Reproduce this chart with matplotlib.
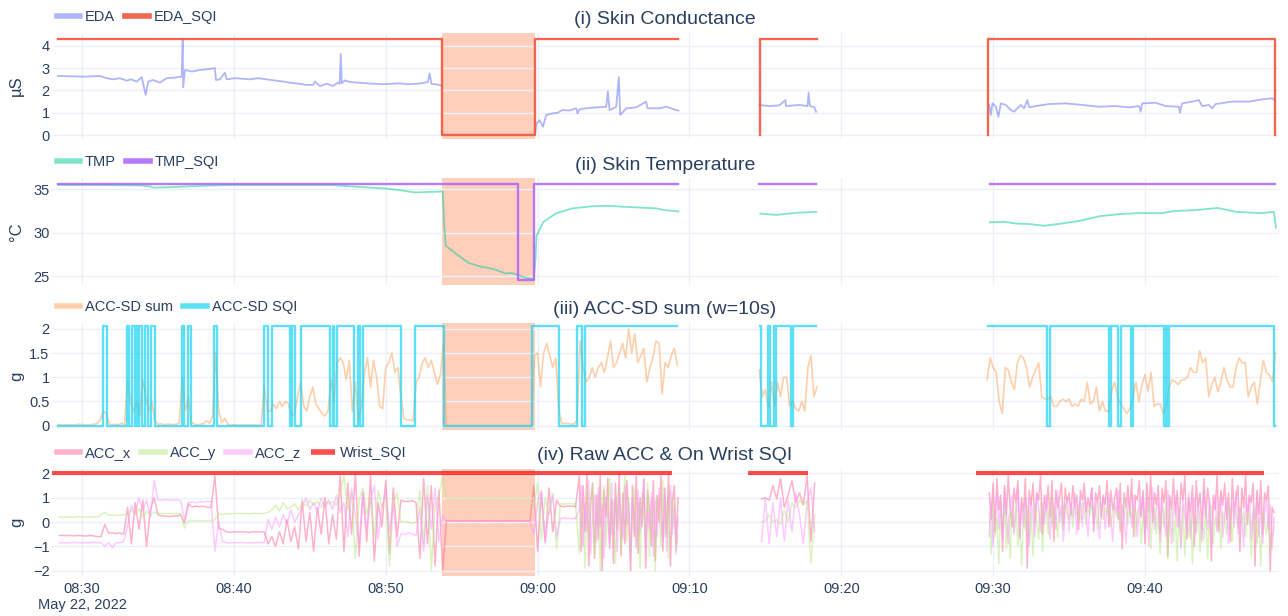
import numpy as np
import matplotlib
matplotlib.use("Agg")
import matplotlib.pyplot as plt

plt.rcParams["font.family"] = ["Liberation Sans", "DejaVu Sans"]

NAVY = "#2a3f5f"
GRID = "#ebf0f8"

# all times are minutes after 08:00, May 22, 2022
x_ticks = [30, 40, 50, 60, 70, 80, 90, 100]
shade_start, shade_end = 53.73, 59.80

# ---------------- (i) skin conductance ----------------
eda_t = [28.42, 30.07, 31.18, 31.63, 32.04, 32.50, 32.94, 33.22, 33.60, 33.93, 34.19, 34.36,
         34.69, 35.13, 35.57, 36.12, 36.56, 36.63, 36.66, 36.78, 37.24, 37.76, 38.22, 38.75,
         38.82, 39.08, 39.41, 39.52, 40.07, 41.05, 41.58, 42.15, 42.70, 43.24, 43.68, 44.34,
         44.74, 45.22, 45.33, 45.66, 46.12, 46.53, 46.84, 46.97, 47.04, 47.11, 47.30, 47.63,
         48.16, 48.73, 49.28, 49.82, 50.39, 50.92, 51.45, 52.02, 52.43, 52.78, 52.89, 53.01,
         53.36, 53.66,
         56.0,
         59.84, 59.93, 60.13, 60.35, 60.57, 60.99, 61.32, 61.64, 62.11, 62.55, 62.63, 62.76,
         63.20, 63.86, 64.52, 64.63, 64.74, 65.18, 65.35, 65.44, 65.84, 66.49, 67.15, 67.24,
         68.03, 68.47, 69.13, 69.28,
         72.0,
         74.61, 75.26, 75.92, 76.32, 76.36, 77.24, 77.78, 77.85, 77.94, 78.22, 78.34,
         84.0,
         89.74, 89.85, 89.95, 90.18, 90.35, 90.51, 90.84, 91.16, 91.38, 91.60, 91.82, 92.04,
         92.26, 92.37, 92.81, 93.68, 94.78, 95.88, 96.97, 98.07, 98.95, 99.61, 99.72, 99.82,
         100.70, 101.36, 102.24, 102.30, 102.45, 103.11, 103.55, 103.77, 104.21, 104.43,
         104.65, 105.74, 106.84, 107.72, 108.38, 108.55]
eda_v = [2.65, 2.62, 2.65, 2.55, 2.5, 2.55, 2.44, 2.5, 2.4, 2.6, 1.8, 2.4,
         2.47, 2.35, 2.55, 2.58, 2.62, 4.3, 2.14, 2.92, 2.85, 2.92, 2.95, 3.0,
         2.47, 2.5, 2.8, 2.5, 2.55, 2.5, 2.55, 2.5, 2.45, 2.4, 2.35, 2.3,
         2.25, 2.25, 2.4, 2.2, 2.3, 2.2, 2.35, 2.3, 3.64, 2.32, 2.45, 2.38,
         2.35, 2.32, 2.3, 2.28, 2.3, 2.32, 2.28, 2.3, 2.33, 2.38, 2.77, 2.3,
         2.27, 2.22,
         np.nan,
         0.1, 0.5, 0.67, 0.37, 0.9, 0.97, 1.0, 1.12, 1.1, 1.2, 0.97, 1.15,
         1.2, 1.24, 1.27, 1.95, 1.12, 1.27, 2.6, 0.9, 1.2, 1.24, 1.5, 1.2,
         1.2, 1.27, 1.12, 1.1,
         np.nan,
         1.35, 1.3, 1.33, 1.57, 1.3, 1.35, 1.3, 1.9, 1.3, 1.25, 1.05,
         np.nan,
         1.35, 0.9, 1.42, 1.27, 0.82, 1.42, 1.35, 1.12, 1.05, 1.2, 1.35, 1.2,
         1.57, 1.24, 1.3, 1.39, 1.42, 1.35, 1.27, 1.3, 1.24, 1.3, 1.05, 1.42,
         1.45, 1.3, 1.27, 1.0, 1.42, 1.5, 1.57, 1.3, 1.35, 1.2,
         1.39, 1.5, 1.5, 1.6, 1.65, 1.55]
eda_sqi_t = [[28.42, 53.73, 59.86, 69.28], [74.67, 74.67, 78.42], [89.67, 89.67, 108.50, 108.55]]
eda_sqi_v = [[4.3, 0, 4.3, 4.3], [0, 4.3, 4.3], [0, 4.3, 4.3, 0]]

# ---------------- (ii) skin temperature ----------------
tmp_t = [28.42, 31.18, 33.82, 34.47, 34.70, 35.79, 37.76, 39.74, 44.34, 46.45, 47.63, 48.95,
         50.00, 50.92, 51.91, 52.89, 53.75, 53.85, 53.95, 54.61, 55.46, 56.25, 57.11, 57.50,
         57.89, 58.29, 58.75, 59.14, 59.54, 59.74, 59.87, 59.93, 60.36, 61.18, 62.28, 63.62,
         64.74, 65.53, 66.71, 67.80, 68.36, 69.28,
         72.0,
         74.67, 75.72, 77.11, 78.36,
         84.0,
         89.78, 90.72, 91.55, 92.37, 93.33, 94.28, 95.66, 97.01, 98.36, 99.47, 101.12, 101.91,
         103.29, 104.80, 106.02, 107.63, 108.49, 108.62]
tmp_v = [35.5, 35.5, 35.45, 35.35, 35.2, 35.25, 35.4, 35.5, 35.5, 35.5, 35.35, 35.2,
         35.1, 34.9, 34.65, 34.7, 34.75, 31.0, 28.5, 27.6, 26.5, 26.1, 25.8, 25.55,
         25.3, 25.35, 25.1, 24.85, 24.7, 24.6, 27.0, 29.6, 31.2, 32.2, 32.8, 33.05,
         33.1, 33.0, 32.9, 32.8, 32.6, 32.45,
         np.nan,
         32.2, 32.05, 32.3, 32.4,
         np.nan,
         31.2, 31.25, 31.05, 31.0, 30.8, 31.0, 31.35, 31.9, 32.15, 32.25, 32.25, 32.5,
         32.6, 32.85, 32.4, 32.25, 32.4, 30.6]
tmp_sqi_t = [[28.42, 58.74, 59.74, 69.25], [74.61, 78.34], [89.78, 108.55]]
tmp_sqi_v = [[35.57, 24.55, 35.57, 35.57], [35.57, 35.57], [35.57, 35.57]]

# ---------------- (iii) ACC-SD sum, 0.2 min samples ----------------
sd_start = [28.4, 74.6, 89.6]
sd_step = 0.2
sd_a = [0.02, 0.02, 0.01, 0.02, 0.02, 0.01, 0.02, 0.03, 0.02, 0.02, 0.01, 0.02, 0.03,
        0.05, 0.12, 0.3, 0.25, 0.03, 0.02, 0.03, 0.02, 0.05, 0.02,
        0.94, 0.5, 0.3, 0.5, 0.2, 0.95, 0.6, 0.3, 0.5, 0.1,
        0.03, 0.04, 0.02, 0.03, 0.03, 0.02, 0.03, 0.05,
        0.99, 0.3, 0.6, 0.08, 0.03, 0.02, 0.03, 0.04, 0.1, 0.05,
        0.2, 1.52, 0.3, 0.06, 0.15, 0.03,
        0.01, 0.02, 0.01, 0.01, 0.02, 0.01, 0.01, 0.02, 0.01, 0.01, 0.02,
        0.85, 0.3, 0.3, 0.45, 0.35, 0.5, 0.4, 0.5, 0.45, 0.2, 0.25, 0.6,
        0.9, 0.4, 0.3, 0.6, 0.8, 0.45, 0.35, 0.25, 0.2, 0.3,
        0.95, 0.5, 1.3, 1.4, 1.3, 0.95, 1.35, 0.3, 0.9, 0.1,
        0.4, 1.1, 1.4, 0.8, 1.35, 1.0, 0.4, 0.35, 1.2, 1.3,
        1.5, 1.1, 1.2, 0.6, 0.15, 0.12, 0.12, 0.1, 0.9, 1.0,
        1.3, 1.4, 1.2, 1.35, 1.1, 0.85, 1.05, 1.7,
        0.0, 0.0, 0.0, 0.0, 0.0, 0.0, 0.0, 0.0, 0.0, 0.0, 0.0, 0.0, 0.0, 0.0, 0.0,
        0.0, 0.0, 0.0, 0.0, 0.0, 0.0, 0.0, 0.0, 0.0, 0.0, 0.0, 0.0, 0.0, 0.0,
        1.45, 1.5, 0.8, 1.5, 1.7, 1.45, 1.2, 1.4, 0.3, 0.05,
        0.04, 0.05, 0.03, 0.04, 0.1,
        1.75, 1.2, 0.9, 1.0, 1.2, 1.0, 1.2, 1.3, 1.1, 1.4,
        1.75, 1.2, 1.3, 1.5, 1.7, 1.4, 2.0, 1.5, 1.9, 1.3,
        1.45, 1.6, 0.9, 1.2, 1.4, 1.75, 1.7, 0.65, 1.3, 1.2, 1.45, 1.6, 1.25]
sd_b = [1.15, 0.6, 0.75, 0.35, 0.9, 0.4, 0.9, 0.6, 1.0, 1.0,
        0.4, 0.5, 0.35, 0.3, 0.5, 0.3, 1.2, 1.45, 0.6, 0.8]
sd_c = [0.95, 1.4, 1.2, 1.1, 0.5, 0.25, 1.2, 1.15, 0.9, 0.75,
        1.3, 1.45, 1.4, 1.2, 0.8, 1.0, 1.15, 1.3, 0.6, 0.55,
        0.55, 0.6, 0.4, 0.4, 0.5, 0.55, 0.5, 0.55, 0.4, 0.45,
        0.4, 0.55, 0.5, 0.9, 0.45, 0.5, 0.8, 0.3, 0.5, 0.3,
        0.3, 0.7, 0.9, 0.6, 0.45, 0.35, 0.25, 0.35, 0.55, 0.9,
        0.5, 0.85, 1.05, 0.7, 1.1, 0.4, 0.45, 0.45, 0.25, 0.4,
        0.8, 0.95, 0.9, 0.85, 0.95, 0.95, 1.0, 1.2, 1.1, 1.1,
        1.55, 1.3, 1.4, 0.6, 0.85, 1.0, 0.7, 0.9, 1.2, 0.95,
        0.8, 0.8, 1.2, 1.4, 1.3, 1.3, 0.6, 0.8, 0.9, 0.45,
        0.95, 1.35, 1.1, 1.05, 0.9, 1.5]
H = 2.05
sd_sqi_t = [[28.42, 31.40, 31.66, 32.94, 33.09, 33.31, 33.49, 33.60, 33.70, 33.75, 33.97,
             34.14, 34.32, 34.52, 34.80, 36.56, 36.73, 36.95, 37.15, 38.68, 38.88, 41.97,
             42.22, 42.52, 43.68, 43.84, 44.01, 44.45, 46.36, 46.51, 46.61, 46.76, 47.91,
             48.16, 48.29, 48.49, 51.03, 51.91, 53.82, 59.61, 61.38, 62.57, 62.93, 63.12, 69.21],
            [74.62, 74.70, 75.20, 75.30, 75.55, 75.62, 75.68, 76.69, 76.80, 78.32],
            [89.69, 93.57, 93.73, 97.63, 97.74, 98.24, 98.40, 99.08, 99.23, 101.27, 101.38,
             101.45, 101.58, 108.49, 108.55]]
sd_sqi_v = [[0, H, 0, H, 0, H, 0, H, 0, H, 0, H, 0, H, 0, H, 0, H, 0, H, 0, H, 0, H, 0,
             H, 0, H, 0, H, 0, H, 0, H, 0, H, 0, H, 0, H, 0, H, 0, H, H],
            [H, 0, H, 0, H, 0, H, 0, H, H],
            [H, 0, H, 0, H, 0, H, 0, H, 0, H, 0, H, 0, 0]]

# ---------------- (iv) raw ACC ----------------
# pieces: 08:28.5 (0.25 min), 09:02.75 (0.125 min), 09:14.75 (0.25 min), 09:29.75 (0.125 min)
acc_start = [28.5, 62.75, 74.75, 89.75]
acc_step = [0.25, 0.125, 0.25, 0.125]
acc_x_a = [-0.55, -0.55, -0.56, -0.55, -0.57, -0.55, -0.56, -0.58, -0.55, -0.57, -0.6,
           -0.6, -0.1, -0.45, -0.45, -0.47, -0.45, -0.5,
           0.6, -0.9, 0.8, -0.3, 0.9, -1.0, 0.5, 1.0,
           0.3, 0.25, 0.25, 0.22, 0.25, 0.25, 0.3,
           -0.05,
           0.75, 0.62, 0.65, 0.63, 0.65, 0.6, 0.6,
           1.9, -0.25, -0.3,
           -0.4, -0.42, -0.4, -0.41, -0.4, -0.4, -0.43, -0.4, -0.41, -0.4, -0.4,
           -0.9, -0.6, -1.0, -0.4, -0.9, 0.1, -0.8, -0.2, -1.1,
           0.9, -0.8, 0.4, -1.2, 0.6, -0.5, 1.0, -0.9, 0.3, -0.7,
           1.9, -1.2, 1.6, -0.5, 2.0, -1.4, 1.2, -0.8, 1.9, -1.6, 0.8, -0.2, 1.7, -1.3, 1.4, -0.6,
           0.9, 0.85, 0.85, 0.88, 0.8,
           -1.5, 1.8, -0.9, 1.5, -1.8, 1.3, -2.0,
           0.06, 0.05, 0.05, 0.04, 0.05, 0.06, 0.05, 0.05, 0.04, 0.05, 0.05, 0.06,
           0.05, 0.05, 0.04, 0.05, 0.05, 0.06, 0.05, 0.05, 0.04, 0.05, 0.05,
           1.5, -1.2, 1.2, -0.8, 1.4, -0.4, 0.9,
           0.65, 0.63, 0.66, 0.65, 0.64]
acc_y_a = [0.2, 0.2, 0.21, 0.2, 0.2, 0.22, 0.2, 0.21, 0.2, 0.22, 0.2,
           0.3, 0.4, 0.28, 0.28, 0.27, 0.28, 0.3,
           0.35, 0.5, 0.3, 0.55, 0.2, 0.45, 0.3, 0.4,
           0.35, 0.35, 0.36, 0.35, 0.34, 0.35, 0.35,
           -0.25,
           0.05, 0.05, 0.04, 0.05, 0.05, 0.04, 0.05,
           0.1, 0.35, 0.3,
           0.35, 0.34, 0.35, 0.36, 0.35, 0.35, 0.34, 0.35, 0.36, 0.35, 0.35,
           0.4, 0.5, 0.7, 0.45, 0.8, 0.55, 0.6, 0.75, 0.5,
           0.8, 0.65, 0.9, 0.7, 0.85, 0.6, 0.9, 0.75, 0.85, 0.7,
           1.2, 1.9, 0.5, 1.2, -1.5, 0.9, 1.4, 0.3, 1.0, -0.6, 1.3, 0.6, 1.1, -1.8, 0.8, 1.2,
           0.0, 0.02, 0.0, -0.05, 0.0,
           1.3, -0.9, 1.5, -2.0, 0.7, 1.1, 1.9,
           0.95, 0.96, 0.95, 0.95, 0.94, 0.95, 0.96, 0.95, 0.95, 0.94, 0.95, 0.95,
           0.96, 0.95, 0.95, 0.94, 0.95, 0.95, 0.96, 0.95, 0.95, 0.94, 0.95,
           0.6, 1.6, -0.7, 1.0, 0.3, 1.2, -1.1,
           0.75, 0.74, 0.76, 0.75, 0.75]
acc_z_a = [-0.85, -0.85, -0.86, -0.85, -0.84, -0.85, -0.86, -0.85, -0.85, -0.84, -0.85,
           -0.85, -1.0, -0.85, -1.05, -0.85, -0.85, -0.8,
           -0.2, 0.7, 0.3, 1.0, 0.5, 0.9, 0.2, 1.7,
           0.9, 0.9, 0.92, 0.9, 0.9, 0.92, 0.88,
           0.1,
           0.8, 0.82, 0.8, 0.83, 0.82, 0.85, 0.85,
           -1.2, 0.0, -0.8,
           -0.85, -0.86, -0.85, -0.85, -0.84, -0.85, -0.86, -0.85, -0.85, -0.84, -0.85,
           0.1, -0.3, 0.2, -0.2, 0.3, -0.1, 0.5, 0.0, 0.3,
           0.6, 1.0, 0.5, 0.8, 0.4, 1.0, 0.6, 0.9, 0.5, 1.1,
           0.4, 0.8, -0.6, 1.4, 0.2, -0.9, 1.2, -0.3, 0.9, 1.5, -0.7, 0.6, 1.3, -0.4, 0.7, -1.0,
           -0.5, -0.5, -0.45, -0.5, -0.55,
           0.6, -1.2, 1.1, -0.3, 1.4, -0.8, 0.3,
           0.05, 0.06, 0.05, 0.05, 0.04, 0.05, 0.05, 0.06, 0.05, 0.05, 0.04, 0.05,
           0.05, 0.06, 0.05, 0.05, 0.04, 0.05, 0.05, 0.06, 0.05, 0.05, 0.04,
           -0.5, 0.8, 1.3, -0.9, 0.4, 1.1, -0.6,
           0.15, 0.16, 0.15, 0.14, 0.15]
acc_x_a2 = [1.9, -1.2, 1.5, -0.4, 2.0, -1.8, 0.8, 1.6, -1.5, 1.1,
            -0.7, 1.9, -2.0, 1.3, 0.2, 1.8, -1.1, 0.9, -1.7, 1.6,
            -0.3, 2.0, -1.4, 1.2, -0.9, 1.7, 0.4, -2.0, 1.5, -0.6,
            1.9, -1.3, 1.0, -0.2, 1.8, -1.9, 1.3, 0.5, -1.0, 1.7,
            -1.6, 1.1, 0.0, 1.9, -1.2, 1.4, -0.5, 2.0, -1.8, 0.8,
            1.5, -0.9, 1.0]
acc_y_a2 = [-1.3, 0.9, 0.3, -1.9, 1.4, -0.6, 0.8, 1.6, -1.4, 0.5,
            1.2, -2.0, 0.4, 1.5, -1.0, 0.7, 1.8, -0.5, 0.9, -1.7,
            0.3, 1.3, -1.2, 0.6, 1.9, -0.8, 1.0, -1.6, 0.4, 1.4,
            -1.1, 0.8, -1.9, 1.2, 0.2, -0.7, 1.6, -1.4, 0.9, 0.1,
            -2.0, 1.1, 0.5, -1.0, 1.7, -0.6, 0.8, -1.5, 1.3, -0.3,
            0.9, -1.2, -0.5]
acc_z_a2 = [0.5, 1.5, -1.0, 0.8, -0.4, 1.7, -1.3, 0.3, 1.1, -0.8,
            1.4, -0.2, 0.7, -1.5, 1.0, 0.2, -0.9, 1.6, -0.5, 0.9,
            -1.2, 1.2, 0.4, -0.7, 1.5, -0.1, 0.8, -1.6, 1.0, 0.3,
            -1.0, 1.3, -0.4, 0.6, 1.7, -1.1, 0.5, -0.3, 1.2, -1.4,
            0.9, -0.6, 1.4, 0.1, -0.8, 1.1, -1.2, 0.7, 1.5, -0.5,
            0.6, -1.3, 0.2]
acc_x_b = [0.95, 1.0, 0.9, 1.5, 0.95, 1.8, 0.6, 1.1, 1.7, 0.8, 1.2, 0.7, 1.9, -0.8, 1.6]
acc_y_b = [0.0, 0.05, 0.3, 0.0, 0.1, -0.1, 0.5, 0.0, 0.8, 0.6, 0.9, 0.7, 0.9, -1.7, 0.3]
acc_z_b = [-0.8, 0.95, -0.9, 0.8, -0.6, 1.0, -0.8, 0.9, -0.4, 1.2, 0.3, -0.9, 0.8, 1.4, -0.4]
acc_x_c = [1.2, 0.1, 1.6, -0.4, 1.8, 0.5, 1.1, -1.2, 1.5, 0.3,
           1.9, 0.6, -0.2, 1.4, 0.8, 1.7, -0.6, 1.0, 0.4, 1.8,
           -1.9, 1.3, 0.7, 1.6, 0.0, 1.2, 0.9, 1.9, -0.5, 1.1,
           0.5, 1.5, 0.2, 1.7, -0.8, 1.3, 0.6, 1.0, 1.6, -0.1,
           1.4, 0.8, 1.2, 0.3, 1.5, 0.7, 1.1, -0.3, 1.3, 0.9,
           1.6, 0.4, 1.0, 0.6, 1.4, -0.4, 1.2, 0.8, 1.5, 0.2,
           1.1, 0.7, 1.7, -0.2, 1.3, 0.5, 1.0, 1.4, 0.1, 1.6,
           -1.1, 1.2, 0.6, 1.5, 0.3, 1.8, -0.6, 1.1, 0.9, 1.7,
           0.2, 1.3, -0.9, 1.6, 0.4, 1.9, 0.0, 1.2, 0.7, 1.5,
           -0.5, 1.4, 0.8, 1.7, -1.4, 1.1, 0.5, 1.8, 0.3, 1.3,
           -0.2, 1.6, 0.9, 1.9, -0.7, 1.0, 0.4, 1.5, -1.0, 1.7,
           0.6, 1.2, -0.3, 1.8, 0.2, 1.4, 0.8, -1.6, 1.1, 0.5,
           1.9, -0.4, 1.3, 0.7, 1.6, 0.1, 1.2, -0.8, 1.8, 0.4,
           1.0, 1.5, -1.2, 1.4, 0.6, 1.9, -0.1, 1.1, 0.8, 1.6,
           -1.8, 1.3, 0.3, 1.7, -0.5, 1.2, 0.9, 1.5, -2.0, 0.6,
           0.4]
acc_y_c = [0.4, -1.3, 0.7, -0.6, 0.2, -1.7, 0.5, -0.2, 0.8, -1.1,
           0.3, -1.5, 0.6, -0.4, 0.9, -1.0, 0.1, -1.8, 0.5, -0.3,
           0.7, -0.9, 0.4, -1.4, 0.6, 0.0, -0.7, 0.8, -1.2, 0.3,
           0.5, -0.5, 0.9, -0.2, 0.6, 0.3, -0.6, 0.7, 0.2, -0.3,
           0.8, 0.4, 0.1, 0.6, -0.2, 0.7, 0.3, 0.5, 0.0, 0.8,
           0.4, -0.1, 0.6, 0.3, 0.7, 0.2, 0.5, -0.3, 0.8, 0.4,
           0.1, 0.6, 0.3, 0.9, -0.2, 0.5, 0.7, 0.2, 0.4, -0.4,
           0.6, 0.3, 0.8, -0.1, 0.5, 0.2, 0.7, -0.6, 0.4, 0.6,
           -0.9, 0.3, 0.5, -0.3, 0.7, -1.1, 0.2, 0.6, -0.5, 0.4,
           -1.3, 0.5, -0.2, 0.8, -1.5, 0.1, 0.6, -0.8, 0.3, -1.6,
           0.4, -1.0, 0.7, -1.4, 0.2, -0.6, 0.5, -1.7, 0.3, -0.4,
           0.6, -1.2, 0.1, -0.7, 0.5, -1.5, 0.3, 0.7, -0.9, 0.2,
           -0.3, 0.6, -1.1, 0.4, 0.1, -0.5, 0.7, 0.2, -0.8, 0.5,
           0.3, -0.2, 0.6, 0.0, 0.4, -0.6, 0.5, 0.2, -1.4, 0.3,
           0.6, -0.9, 0.2, -1.8, 0.4, 0.1, -0.5, 0.3, -1.2, -0.7,
           -0.2]
acc_z_c = [-0.6, 0.9, -1.0, 0.5, 1.2, -0.3, 0.8, -0.8, 1.4, 0.1,
           -0.9, 0.6, 1.1, -0.5, 0.3, 1.3, -0.7, 0.7, -0.2, 1.0,
           0.4, -1.0, 0.9, 0.2, -0.6, 1.2, 0.5, -0.4, 0.8, -0.1,
           1.1, 0.3, -0.7, 0.9, 0.6, -0.3, 1.3, 0.0, 0.7, -0.8,
           0.5, 1.0, -0.4, 0.8, 0.2, 1.2, -0.5, 0.6, 0.9, -0.2,
           1.1, 0.3, -0.6, 0.7, 1.4, -0.1, 0.5, 0.9, -0.7, 0.4,
           1.0, -0.3, 0.6, 1.2, 0.1, -0.8, 0.8, 0.4, 1.3, -0.4,
           0.7, 0.2, -0.9, 1.0, 0.5, -0.2, 1.1, 0.6, -0.6, 0.9,
           0.3, 1.2, -0.5, 0.8, -1.0, 0.6, 1.4, -0.3, 0.5, 0.9,
           -0.8, 1.0, 0.2, -0.6, 1.3, 0.4, -0.9, 0.7, 1.1, -0.2,
           0.6, -1.1, 0.9, 0.3, -0.4, 1.2, -0.7, 0.5, 1.0, -0.5,
           0.8, 0.1, -0.8, 1.3, 0.4, -0.3, 0.9, -1.0, 0.6, 1.1,
           -0.4, 0.7, 1.2, -0.6, 0.3, 1.0, -0.9, 0.5, 0.8, -0.2,
           1.3, -0.5, 0.6, 0.2, -1.0, 0.9, 0.4, 1.1, -0.7, 0.5,
           0.1, 1.2, -0.6, 0.8, -0.9, 0.4, 1.0, -0.3, 0.7, -1.1,
           0.2]
wrist_on = [28.03, 73.86, 88.86]
wrist_off = [68.82, 77.83, 107.83]
wrist_level = 2.0


def sample_times(start, step, n):
    return start + step * np.arange(n)


def step_lines(ax, ts, vs, label, **kw):
    for k, (t, v) in enumerate(zip(ts, vs)):
        ax.plot(t, v, drawstyle="steps-post", label=label if k == 0 else None, **kw)


def label_tick(m):
    return f"{8 + m // 60:02d}:{m % 60:02d}"


fig = plt.figure(figsize=(12.88, 6.16), dpi=100)
left, width = 0.0401, 0.9526
rows = [(0.7739, 0.1726), (0.5373, 0.1732), (0.3019, 0.1737), (0.0649, 0.1737)]
axes = [fig.add_axes([left, b, width, h]) for b, h in rows]

titles = ["(i) Skin Conductance", "(ii) Skin Temperature",
          "(iii) ACC-SD sum (w=10s)", "(iv) Raw ACC & On Wrist SQI"]
ylabels = ["µS", "°C", "g", "g"]
ylims = [(-0.19, 4.58), (23.96, 36.27), (-0.09, 2.12), (-2.22, 2.18)]
yticks = [[0, 1, 2, 3, 4], [25, 30, 35], [0, 0.5, 1, 1.5, 2], [-2, -1, 0, 1, 2]]
ytick_labels = [["0", "1", "2", "3", "4"], ["25", "30", "35"],
                ["0", "0.5", "1", "1.5", "2"], ["−2", "−1", "0", "1", "2"]]

# (i)
ax = axes[0]
ax.plot(eda_t, eda_v, color="#636efa", alpha=0.5, lw=1.3, label="EDA")
step_lines(ax, eda_sqi_t, eda_sqi_v, "EDA_SQI", color="#ef553b", alpha=0.9, lw=1.7)

# (ii)
ax = axes[1]
ax.plot(tmp_t, tmp_v, color="#00cc96", alpha=0.5, lw=1.3, label="TMP")
step_lines(ax, tmp_sqi_t, tmp_sqi_v, "TMP_SQI", color="#ab63fa", alpha=0.85, lw=1.7)

# (iii)
ax = axes[2]
for k, vals in enumerate([sd_a, sd_b, sd_c]):
    ax.plot(sample_times(sd_start[k], sd_step, len(vals)), vals, color="#ffa15a",
            alpha=0.5, lw=1.2, label="ACC-SD sum" if k == 0 else None)
step_lines(ax, sd_sqi_t, sd_sqi_v, "ACC-SD SQI", color="#19d3f3", alpha=0.7, lw=1.7)

# (iv)
ax = axes[3]
acc_sets = [("ACC_x", "#ff6692", [acc_x_a, acc_x_a2, acc_x_b, acc_x_c]),
            ("ACC_y", "#b6e880", [acc_y_a, acc_y_a2, acc_y_b, acc_y_c]),
            ("ACC_z", "#ff97ff", [acc_z_a, acc_z_a2, acc_z_b, acc_z_c])]
for name, col, segs in acc_sets:
    for k, vals in enumerate(segs):
        t = sample_times(acc_start[k], acc_step[k], len(vals))
        if k == 1:
            # join onto the end of the first piece
            prev = segs[0]
            t = np.concatenate([[acc_start[0] + acc_step[0] * (len(prev) - 1)], t])
            vals = [prev[-1]] + vals
        ax.plot(t, vals, color=col, alpha=0.5, lw=1.1, label=name if k == 0 else None)
for k, (a, b) in enumerate(zip(wrist_on, wrist_off)):
    ax.plot([a, b], [wrist_level, wrist_level], color="red", alpha=0.7, lw=3,
            solid_capstyle="butt", label="Wrist_SQI" if k == 0 else None)

for i, ax in enumerate(axes):
    ax.set_xlim(28.0, 108.8)
    ax.set_ylim(*ylims[i])
    ax.axvspan(shade_start, shade_end, color="lightsalmon", alpha=0.5, lw=0, zorder=1)
    for s in ax.spines.values():
        s.set_visible(False)
    ax.grid(True, color=GRID, lw=1)
    ax.set_xticks(x_ticks)
    ax.set_yticks(yticks[i])
    ax.set_yticklabels(ytick_labels[i])
    ax.tick_params(length=0, labelsize=10.5, labelcolor=NAVY, pad=1.5)
    ax.set_ylabel(ylabels[i], fontsize=12, color=NAVY)
    ax.yaxis.set_label_coords(-0.0225, 0.5)
    ax.text(0.5, 1.122, titles[i], transform=ax.transAxes, ha="center", va="center",
            fontsize=14, color=NAVY)
    leg = ax.legend(loc="center left", bbox_to_anchor=(0.004, 1.15), ncol=4,
                    frameon=False, fontsize=10.5, handlelength=1.6, handletextpad=0.35,
                    columnspacing=0.7, borderpad=0, borderaxespad=0, labelcolor=NAVY)
    for h in leg.get_lines():
        h.set_linewidth(4)
    if i < 3:
        ax.tick_params(labelbottom=False)
    else:
        labels = [label_tick(m) for m in x_ticks]
        labels[0] += "\nMay 22, 2022"
        ax.set_xticklabels(labels)
        ax.tick_params(axis="x", pad=4)

fig.savefig("out.png", dpi=100)
